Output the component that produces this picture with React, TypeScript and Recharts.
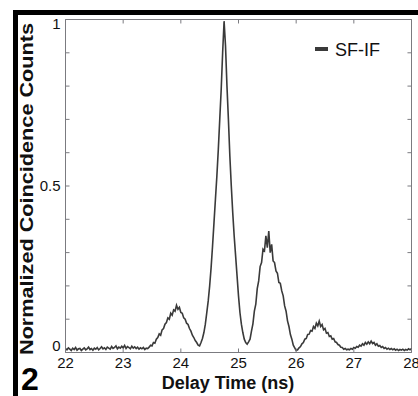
import { LineChart, Line, XAxis, YAxis, ReferenceLine } from 'recharts'

// delay axis sampling (ns)
const delayStart = 22
const delayStep = 0.025

// normalized coincidence counts, one value per 0.025 ns from 22 to 28 ns
const counts = [
  // 22.000 - 22.475
  0.012, 0.008, 0.014, 0.01, 0.006, 0.013, 0.009, 0.015, 0.007, 0.011,
  0.012, 0.006, 0.01, 0.014, 0.008, 0.011, 0.016, 0.009, 0.012, 0.007,
  // 22.500 - 22.975
  0.013, 0.01, 0.015, 0.008, 0.012, 0.017, 0.011, 0.014, 0.009, 0.016,
  0.013, 0.01, 0.018, 0.012, 0.015, 0.02, 0.011, 0.016, 0.013, 0.019,
  // 23.000 - 23.425
  0.014, 0.021, 0.012, 0.018, 0.015, 0.011, 0.019, 0.013, 0.017, 0.012,
  0.016, 0.01, 0.014, 0.011, 0.015, 0.009, 0.013, 0.012,
  // 23.450 - 24.275 first side peak
  0.016, 0.022, 0.02, 0.03, 0.028, 0.04, 0.045, 0.056, 0.052, 0.068,
  0.072, 0.085, 0.09, 0.104, 0.1, 0.118, 0.112, 0.128, 0.124, 0.142,
  0.13, 0.136, 0.12, 0.118, 0.104, 0.1, 0.088, 0.084, 0.072, 0.064,
  0.052, 0.045, 0.036, 0.03,
  // 24.300 - 25.150 main peak
  0.022, 0.02, 0.03, 0.042, 0.06, 0.085, 0.12, 0.155, 0.2, 0.255,
  0.32, 0.39, 0.46, 0.53, 0.61, 0.7, 0.79, 0.9, 0.995, 0.92,
  0.8, 0.7, 0.59, 0.5, 0.42, 0.35, 0.29, 0.23, 0.17, 0.12,
  0.085, 0.06, 0.04, 0.03, 0.025,
  // 25.175 - 26.000 second side peak
  0.032, 0.04, 0.064, 0.086, 0.124, 0.145, 0.192, 0.215, 0.258, 0.27,
  0.31, 0.305, 0.35, 0.315, 0.365, 0.3, 0.325, 0.275, 0.27, 0.245,
  0.238, 0.21, 0.208, 0.185, 0.17, 0.14, 0.124, 0.095, 0.078, 0.054,
  0.04, 0.022, 0.014, 0.006,
  // 26.025 - 26.900 third side peak
  0.008, 0.014, 0.018, 0.026, 0.03, 0.04, 0.042, 0.054, 0.055, 0.066,
  0.064, 0.078, 0.072, 0.088, 0.08, 0.094, 0.078, 0.084, 0.068, 0.072,
  0.058, 0.06, 0.048, 0.05, 0.04, 0.042, 0.032, 0.03, 0.024, 0.022,
  0.016, 0.015, 0.01, 0.012, 0.008, 0.01,
  // 26.925 - 28.000 tail
  0.008, 0.012, 0.01, 0.015, 0.013, 0.018, 0.016, 0.022, 0.019, 0.026,
  0.022, 0.03, 0.025, 0.032, 0.026, 0.034, 0.027, 0.03, 0.022, 0.026,
  0.019, 0.021, 0.015, 0.018, 0.012, 0.015, 0.01, 0.013, 0.009, 0.012,
  0.008, 0.011, 0.007, 0.01, 0.006, 0.009, 0.007, 0.01, 0.006, 0.009,
  0.007, 0.011, 0.008, 0.012,
]

const xTicks = [22, 23, 24, 25, 26, 27, 28]
const yTicks = [0, 0.1, 0.2, 0.3, 0.4, 0.5, 0.6, 0.7, 0.8, 0.9, 1]
const yLabelled = [0, 0.5, 1]

const data = counts.map((c, i) => ({
  delay: +(delayStart + i * delayStep).toFixed(3),
  counts: c,
}))

const font = 'Liberation Sans, Arial, sans-serif'
const axisGray = '#7b7b80'
const lineColor = '#3a3a3a'

// ticks drawn inward, MATLAB style
const BottomTick = (props: any) => {
  const { x, y, payload } = props
  return (
    <g>
      <line x1={x} y1={y} x2={x} y2={y - 4} stroke={axisGray} strokeWidth={1} />
      <text x={x} y={y + 15} textAnchor="middle" fontSize={15} fontFamily={font} fill="#111">
        {payload.value}
      </text>
    </g>
  )
}

const LeftTick = (props: any) => {
  const { x, y, payload } = props
  const v = payload.value
  const show = yLabelled.some((l) => Math.abs(l - v) < 1e-6)
  const dy = v === 1 ? 9 : v === 0 ? -2 : 5
  return (
    <g>
      <line x1={x} y1={y} x2={x + 4} y2={y} stroke={axisGray} strokeWidth={1} />
      {show && (
        <text x={x - 5} y={y + dy} textAnchor="end" fontSize={15} fontFamily={font} fill="#111">
          {v}
        </text>
      )}
    </g>
  )
}

export default function App() {
  return (
    <div style={{ position: 'absolute', left: 0, top: 0, width: 418, height: 396, background: '#fff' }}>
      {/* frame, titles, legend and panel number sit under the chart */}
      <svg width={418} height={396} style={{ position: 'absolute', left: 0, top: 0 }}>
        <rect x={13} y={10} width={405} height={5} fill="#000" />
        <rect x={13} y={10} width={5} height={386} fill="#000" />
        <text
          transform="translate(33,189) rotate(-90)"
          textAnchor="middle"
          fontSize={18}
          fontWeight="bold"
          fontFamily={font}
          textLength={332}
          lengthAdjust="spacingAndGlyphs"
          fill="#111"
        >
          Normalized Coincidence Counts
        </text>
        <text x={228} y={389} textAnchor="middle" fontSize={18} fontWeight="bold" fontFamily={font} fill="#111">
          Delay Time (ns)
        </text>
        <text x={21} y={390} fontSize={32} fontWeight={900} fontFamily={font} fill="#000">
          2
        </text>
        <rect x={315} y={47} width={13} height={4} fill={lineColor} />
        <text x={335} y={56} fontSize={18} fontFamily={font} fill="#111">
          SF-IF
        </text>
      </svg>
      <div style={{ position: 'absolute', left: 0, top: 0 }}>
        <LineChart width={418} height={396} data={data} margin={{ top: 19.5, right: 6.5, bottom: 0, left: 0 }}>
          <XAxis
            dataKey="delay"
            type="number"
            domain={[22, 28]}
            ticks={xTicks}
            interval={0}
            height={43.5}
            tickSize={0}
            tickMargin={0}
            tickLine={false}
            stroke={axisGray}
            axisLine={{ stroke: axisGray }}
            tick={<BottomTick />}
          />
          <YAxis
            type="number"
            domain={[0, 1]}
            ticks={yTicks}
            interval={0}
            width={65.5}
            tickSize={0}
            tickMargin={0}
            tickLine={false}
            stroke={axisGray}
            axisLine={{ stroke: axisGray }}
            tick={<LeftTick />}
          />
          {/* top and right edges of the box with inward ticks */}
          <ReferenceLine y={1} stroke={axisGray} />
          <ReferenceLine x={28} stroke={axisGray} />
          {xTicks.map((t) => (
            <ReferenceLine
              key={`tt-${t}`}
              segment={[{ x: t, y: 1 }, { x: t, y: 0.988 }]}
              stroke={axisGray}
            />
          ))}
          {yTicks.map((v) => (
            <ReferenceLine
              key={`rt-${v}`}
              segment={[{ x: 28, y: v }, { x: 27.93, y: v }]}
              stroke={axisGray}
            />
          ))}
          <Line
            type="linear"
            dataKey="counts"
            name="SF-IF"
            stroke={lineColor}
            strokeWidth={1.6}
            dot={false}
            isAnimationActive={false}
          />
        </LineChart>
      </div>
    </div>
  )
}
